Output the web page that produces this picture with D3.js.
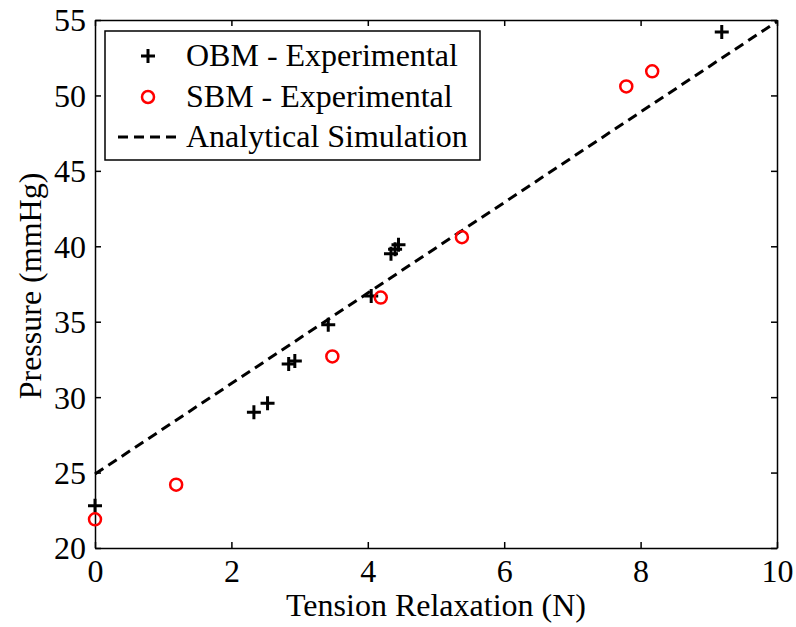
<!DOCTYPE html>
<html>
<head>
<meta charset="utf-8">
<script src="https://cdn.jsdelivr.net/npm/d3@7"></script>
<style>
	body { margin: 0; background: #fff; }
	svg text { font-family: "Liberation Serif", "Times New Roman", Times, serif !important; fill: #000; }
</style>
</head>
<body>
<div id="chart"></div>
<script>

// OBM - Experimental (+ markers)
var obmTension = [0, 2.33, 2.53, 2.84, 2.93, 3.42, 4.05, 4.34, 4.40, 4.45, 9.19];
var obmPressure = [22.8, 29.0, 29.6, 32.2, 32.4, 34.8, 36.7, 39.5, 39.8, 40.1, 54.2];

// SBM - Experimental (o markers)
var sbmTension = [0, 1.19, 3.48, 4.19, 5.38, 7.79, 8.17];
var sbmPressure = [21.9, 24.2, 32.7, 36.6, 40.6, 50.6, 51.6];

// Analytical Simulation (dashed line)
var simTension = [0, 10];
var simPressure = [24.9, 54.9];

var xTicks = [0, 2, 4, 6, 8, 10];
var yTicks = [20, 25, 30, 35, 40, 45, 50, 55];
var legendLabels = ["OBM - Experimental", "SBM - Experimental", "Analytical Simulation"];

var width = 796, height = 627;
var margin = {left: 95, right: 19, top: 20, bottom: 79};

var svg = d3.select("#chart").append("svg")
	.attr("width", width)
	.attr("height", height)
	.attr("font-family", "Liberation Serif");

var x = d3.scaleLinear().domain([0, 10]).range([margin.left, width - margin.right]);
var y = d3.scaleLinear().domain([20, 55]).range([height - margin.bottom, margin.top]);

var x0 = x.range()[0], x1 = x.range()[1], y0 = y.range()[0], y1 = y.range()[1];
var fontSize = 32;

// axes with inward ticks (MATLAB style box)
var bottomAxis = svg.append("g").attr("transform", "translate(0," + y0 + ")")
	.call(d3.axisBottom(x).tickValues(xTicks).tickSizeInner(-6).tickSizeOuter(0).tickPadding(11));
var topAxis = svg.append("g").attr("transform", "translate(0," + y1 + ")")
	.call(d3.axisTop(x).tickValues(xTicks).tickSizeInner(-6).tickSizeOuter(0).tickFormat(""));
var leftAxis = svg.append("g").attr("transform", "translate(" + x0 + ",0)")
	.call(d3.axisLeft(y).tickValues(yTicks).tickSizeInner(-6).tickSizeOuter(0).tickPadding(9));
var rightAxis = svg.append("g").attr("transform", "translate(" + x1 + ",0)")
	.call(d3.axisRight(y).tickValues(yTicks).tickSizeInner(-6).tickSizeOuter(0).tickFormat(""));

[bottomAxis, topAxis, leftAxis, rightAxis].forEach(function(a) {
	a.attr("font-family", null).attr("font-size", null);
	a.select(".domain").attr("stroke", "#000").attr("stroke-width", 1.5);
	a.selectAll(".tick line").attr("stroke", "#000").attr("stroke-width", 1.5);
	a.selectAll(".tick text")
		.attr("font-size", fontSize)
		.attr("fill", "#000");
});
bottomAxis.selectAll(".tick text").attr("dy", "0.72em");
leftAxis.selectAll(".tick text").attr("dy", "0.34em");

// axis labels
svg.append("text")
	.attr("x", (x0 + x1) / 2)
	.attr("y", 616)
	.attr("text-anchor", "middle")
	.attr("font-size", fontSize)
	.text("Tension Relaxation (N)");

svg.append("text")
	.attr("transform", "translate(41," + 286 + ") rotate(-90)")
	.attr("text-anchor", "middle")
	.attr("font-size", fontSize)
	.text("Pressure (mmHg)");

// analytical line
var line = d3.line()
	.x(function(d) { return x(d[0]); })
	.y(function(d) { return y(d[1]); });

svg.append("path")
	.datum(d3.zip(simTension, simPressure))
	.attr("d", line)
	.attr("fill", "none")
	.attr("stroke", "#000")
	.attr("stroke-width", 3)
	.attr("stroke-dasharray", "10,6");

// plus markers
function plus(g, cx, cy) {
	g.append("path")
		.attr("d", "M" + (cx - 7) + "," + cy + "H" + (cx + 7) + "M" + cx + "," + (cy - 7) + "V" + (cy + 7))
		.attr("stroke", "#000")
		.attr("stroke-width", 3)
		.attr("fill", "none");
}

var obmG = svg.append("g");
d3.zip(obmTension, obmPressure).forEach(function(d) {
	plus(obmG, x(d[0]), y(d[1]));
});

svg.append("g").selectAll("circle")
	.data(d3.zip(sbmTension, sbmPressure))
	.enter().append("circle")
	.attr("cx", function(d) { return x(d[0]); })
	.attr("cy", function(d) { return y(d[1]); })
	.attr("r", 6)
	.attr("fill", "none")
	.attr("stroke", "#ff0000")
	.attr("stroke-width", 2.5);

// legend
var legend = svg.append("g");
legend.append("rect")
	.attr("x", 105).attr("y", 31)
	.attr("width", 375).attr("height", 129)
	.attr("fill", "#fff")
	.attr("stroke", "#000")
	.attr("stroke-width", 1.5);

var rowY = [56, 97, 137];
plus(legend, 148, rowY[0]);
legend.append("circle")
	.attr("cx", 148).attr("cy", rowY[1]).attr("r", 6)
	.attr("fill", "none").attr("stroke", "#ff0000").attr("stroke-width", 2.5);
legend.append("line")
	.attr("x1", 118).attr("x2", 176)
	.attr("y1", rowY[2]).attr("y2", rowY[2])
	.attr("stroke", "#000").attr("stroke-width", 3)
	.attr("stroke-dasharray", "10,6");

legendLabels.forEach(function(t, i) {
	legend.append("text")
		.attr("x", 186)
		.attr("y", rowY[i] + 10)
		.attr("font-size", fontSize)
		.text(t);
});

</script>
</body>
</html>
